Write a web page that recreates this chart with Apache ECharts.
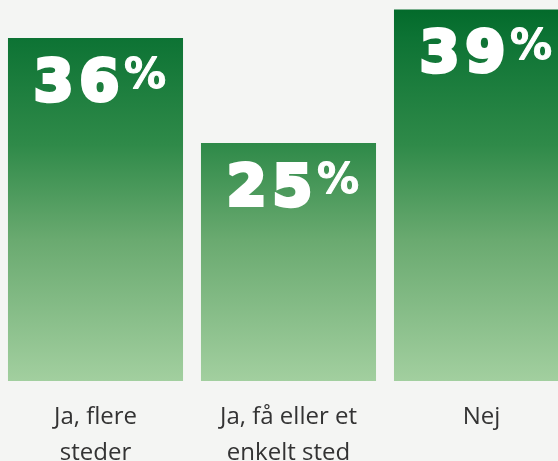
<!DOCTYPE html>
<html>
<head>
<meta charset="utf-8">
<script src="https://cdn.jsdelivr.net/npm/echarts@6/dist/echarts.min.js"></script>
<style>
  html, body { margin: 0; padding: 0; background: #f4f5f3; }
  #chart { width: 558px; height: 461px; }
</style>
</head>
<body>
<div id="chart"></div>
<script>
const categories = ["Ja, flere\nsteder", "Ja, få eller et\nenkelt sted", "Nej"]
const values = [36, 25, 39]

const myChart = echarts.init(document.getElementById("chart"))

// one gradient over the whole plot height, so shorter bars start lighter
const barFill = new echarts.graphic.LinearGradient(0, 0, 0, 381, [
  { offset: 0, color: "#006828" },
  { offset: 0.1, color: "#0d7334" },
  { offset: 0.38, color: "#2f8a49" },
  { offset: 0.63, color: "#6aaa70" },
  { offset: 1, color: "#a2cf9f" },
], true)

// each digit its own rich token so they can be spaced out a bit
function pctLabel(p) {
  const digits = String(p.value).split("").map((d) => `{n|${d}}`).join("")
  return `${digits}{p|%}`
}

const option = {
  backgroundColor: "#f4f5f3",
  animation: false,
  grid: {
    left: -1,
    top: 0,
    width: 579,
    height: 381,
    containLabel: false,
    outerBoundsMode: "none",
  },
  xAxis: {
    type: "category",
    data: categories,
    axisLine: { show: false },
    axisTick: { show: false },
    axisLabel: {
      color: "#333333",
      fontFamily: "Open Sans",
      fontSize: 24,
      lineHeight: 36,
      margin: 18,
      interval: 0,
    },
  },
  yAxis: {
    type: "value",
    min: 0,
    max: 40,
    show: false,
    splitLine: { show: false },
  },
  series: [
    {
      type: "bar",
      data: values,
      barCategoryGap: "9.3%",
      itemStyle: { color: barFill },
      label: {
        show: true,
        position: "insideTop",
        distance: 18,
        offset: [3, 0],
        formatter: pctLabel,
        rich: {
          n: {
            fontFamily: "DejaVu Sans",
            fontWeight: "bold",
            fontSize: 57,
            lineHeight: 60,
            color: "#ffffff",
            textBorderColor: "#ffffff",
            textBorderWidth: 4,
            padding: [0, 3, 0, 3],
          },
          p: {
            fontFamily: "DejaVu Sans",
            fontWeight: "bold",
            fontSize: 42,
            lineHeight: 58,
            verticalAlign: "top",
            color: "#ffffff",
            textBorderColor: "#ffffff",
            textBorderWidth: 1,
            padding: [0, 0, 0, 2],
          },
        },
      },
    },
  ],
}

myChart.setOption(option)
</script>
</body>
</html>
